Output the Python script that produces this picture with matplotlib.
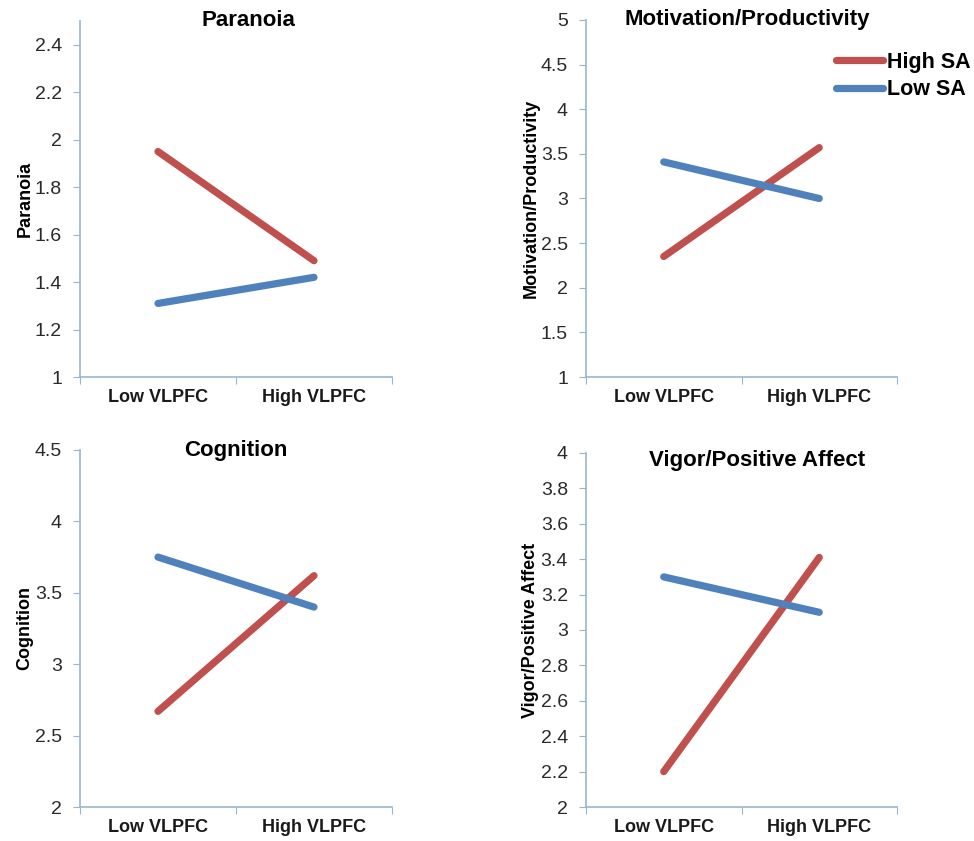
import numpy as np
import matplotlib
matplotlib.use("Agg")
import matplotlib.pyplot as plt
from matplotlib.ticker import FuncFormatter

plt.rcParams['font.family'] = ['Liberation Sans', 'DejaVu Sans']

categories = ["Low VLPFC", "High VLPFC"]
series_names = ["High SA", "Low SA"]

titles = ["Paranoia", "Motivation/Productivity", "Cognition", "Vigor/Positive Affect"]

paranoia_high = [1.95, 1.49]
paranoia_low = [1.31, 1.42]
motivation_high = [2.35, 3.57]
motivation_low = [3.41, 3.00]
cognition_high = [2.67, 3.62]
cognition_low = [3.75, 3.40]
vigor_high = [2.20, 3.41]
vigor_low = [3.30, 3.10]

paranoia_ticks = [1, 1.2, 1.4, 1.6, 1.8, 2, 2.2, 2.4]
motivation_ticks = [1, 1.5, 2, 2.5, 3, 3.5, 4, 4.5, 5]
cognition_ticks = [2, 2.5, 3, 3.5, 4, 4.5]
vigor_ticks = [2, 2.2, 2.4, 2.6, 2.8, 3, 3.2, 3.4, 3.6, 3.8, 4]

red = "#C0504D"
blue = "#4F81BD"
axis_col = "#98B6CC"

W, H = 974, 841
fig = plt.figure(figsize=(W / 100, H / 100), dpi=100)


def px_axes(x0, y0, x1, y1):
    return fig.add_axes([x0 / W, 1 - y1 / H, (x1 - x0) / W, (y1 - y0) / H])


# axes, high SA, low SA, ticks, y range, title x (axes frac), title y (px from axes top)
panels = [
    (px_axes(80, 21, 392, 377), paranoia_high, paranoia_low, paranoia_ticks, (1, 2.5), 0.54, 0),
    (px_axes(586, 20, 897, 377), motivation_high, motivation_low, motivation_ticks, (1, 5), 0.52, 0),
    (px_axes(80, 450, 392, 807), cognition_high, cognition_low, cognition_ticks, (2, 4.5), 0.50, 1),
    (px_axes(586, 453, 897, 807), vigor_high, vigor_low, vigor_ticks, (2, 4), 0.55, 8),
]

x = np.arange(1, len(categories) + 1)

for (ax, hi, lo, ticks, ylim, tx, ty), title in zip(panels, titles):
    ax.plot(x, hi, color=red, lw=5.2, solid_capstyle="round", label=series_names[0])
    ax.plot(x, lo, color=blue, lw=5.2, solid_capstyle="round", label=series_names[1])
    ax.set_xlim(0.5, len(categories) + 0.5)
    ax.set_ylim(*ylim)
    ax.set_yticks(ticks)
    ax.yaxis.set_major_formatter(FuncFormatter(lambda v, p: "%g" % v))
    ax.set_xticks(np.arange(0.5, len(categories) + 1, 1.0))
    ax.set_xticklabels([])
    ax.set_xticks(x, minor=True)
    ax.set_xticklabels(categories, minor=True, fontsize=13, fontweight="bold", color="#1a1a1a")
    ax.tick_params(axis="x", which="minor", length=0, pad=9)
    ax.tick_params(axis="x", which="major", length=5, color=axis_col, direction="out")
    ax.tick_params(axis="y", length=5, color=axis_col, direction="out", labelsize=14,
                   labelcolor="#2a2a2a", pad=8)
    for s in ["top", "right"]:
        ax.spines[s].set_visible(False)
    for s in ["left", "bottom"]:
        ax.spines[s].set_color(axis_col)
        ax.spines[s].set_linewidth(1.2)
    ax.set_ylabel(title, fontsize=13, fontweight="bold", labelpad=1)
    bb = ax.get_position()
    ax.text(bb.x0 + tx * bb.width, bb.y1 - ty / H, title, transform=fig.transFigure,
            ha="center", va="center", fontsize=16, fontweight="bold")

handles, labels = panels[1][0].get_legend_handles_labels()
fig.legend(handles, labels, loc="upper left", bbox_to_anchor=(836 / W, 1 - 52 / H),
           frameon=False, borderpad=0, borderaxespad=0, handlelength=2.2,
           handletextpad=0.15, labelspacing=0.3,
           prop={"size": 15.5, "weight": "bold"})

fig.savefig("out.png", dpi=100)
